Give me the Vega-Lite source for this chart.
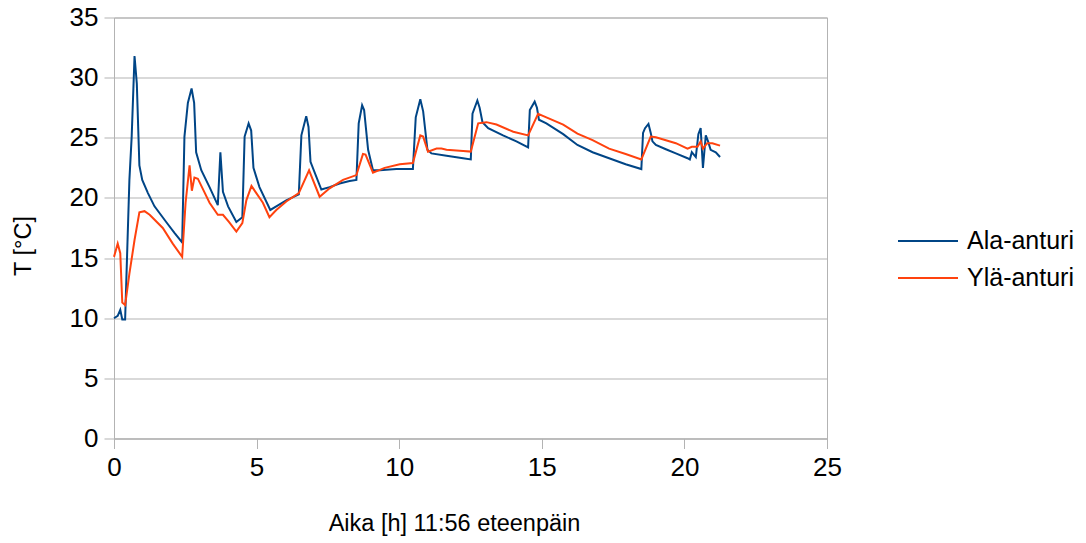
{
  "$schema": "https://vega.github.io/schema/vega-lite/v6.json",
  "autosize": "none",
  "width": 713,
  "height": 421,
  "padding": {"left": 114, "top": 17.5, "right": 259, "bottom": 104.5},
  "background": "white",
  "config": {
    "font": "Liberation Sans",
    "view": {"stroke": "#b3b3b3", "strokeWidth": 1},
    "axis": {
      "domainColor": "#b3b3b3",
      "tickColor": "#b3b3b3",
      "gridColor": "#b3b3b3",
      "labelColor": "#000000",
      "titleColor": "#000000",
      "labelFont": "Liberation Sans",
      "titleFont": "Liberation Sans",
      "titleFontWeight": "normal",
      "labelFontSize": 26,
      "titleFontSize": 23.5,
      "tickSize": 10,
      "labelPadding": 6,
      "labelFlush": false
    },
    "legend": {"labelFont": "Liberation Sans"}
  },
  "data": {"values": [
    {"s":"Ala-anturi","t":0,"T":10.0},{"s":"Ala-anturi","t":0.13,"T":10.2},{"s":"Ala-anturi","t":0.22,"T":10.7},{"s":"Ala-anturi","t":0.29,"T":9.9},{"s":"Ala-anturi","t":0.39,"T":9.9},{"s":"Ala-anturi","t":0.54,"T":21.5},{"s":"Ala-anturi","t":0.62,"T":25.1},{"s":"Ala-anturi","t":0.72,"T":31.8},{"s":"Ala-anturi","t":0.80,"T":29.5},{"s":"Ala-anturi","t":0.89,"T":22.7},{"s":"Ala-anturi","t":0.99,"T":21.5},{"s":"Ala-anturi","t":1.19,"T":20.4},{"s":"Ala-anturi","t":1.42,"T":19.3},{"s":"Ala-anturi","t":1.83,"T":18.0},{"s":"Ala-anturi","t":2.12,"T":17.1},{"s":"Ala-anturi","t":2.39,"T":16.3},{"s":"Ala-anturi","t":2.47,"T":25.1},{"s":"Ala-anturi","t":2.59,"T":27.9},{"s":"Ala-anturi","t":2.72,"T":29.1},{"s":"Ala-anturi","t":2.81,"T":27.9},{"s":"Ala-anturi","t":2.88,"T":23.8},{"s":"Ala-anturi","t":3.06,"T":22.3},{"s":"Ala-anturi","t":3.35,"T":20.9},{"s":"Ala-anturi","t":3.64,"T":19.4},{"s":"Ala-anturi","t":3.73,"T":23.8},{"s":"Ala-anturi","t":3.82,"T":20.5},{"s":"Ala-anturi","t":4.0,"T":19.3},{"s":"Ala-anturi","t":4.29,"T":18.0},{"s":"Ala-anturi","t":4.5,"T":18.4},{"s":"Ala-anturi","t":4.58,"T":25.1},{"s":"Ala-anturi","t":4.72,"T":26.2},{"s":"Ala-anturi","t":4.81,"T":25.6},{"s":"Ala-anturi","t":4.89,"T":22.5},{"s":"Ala-anturi","t":5.1,"T":20.9},{"s":"Ala-anturi","t":5.48,"T":19.0},{"s":"Ala-anturi","t":5.69,"T":19.3},{"s":"Ala-anturi","t":6.04,"T":19.8},{"s":"Ala-anturi","t":6.48,"T":20.3},{"s":"Ala-anturi","t":6.57,"T":25.2},{"s":"Ala-anturi","t":6.74,"T":26.8},{"s":"Ala-anturi","t":6.82,"T":25.9},{"s":"Ala-anturi","t":6.89,"T":23.0},{"s":"Ala-anturi","t":7.27,"T":20.7},{"s":"Ala-anturi","t":7.56,"T":20.9},{"s":"Ala-anturi","t":7.91,"T":21.2},{"s":"Ala-anturi","t":8.26,"T":21.4},{"s":"Ala-anturi","t":8.5,"T":21.5},{"s":"Ala-anturi","t":8.58,"T":26.2},{"s":"Ala-anturi","t":8.70,"T":27.7},{"s":"Ala-anturi","t":8.77,"T":27.3},{"s":"Ala-anturi","t":8.91,"T":24.0},{"s":"Ala-anturi","t":9.08,"T":22.3},{"s":"Ala-anturi","t":9.32,"T":22.3},{"s":"Ala-anturi","t":9.9,"T":22.4},{"s":"Ala-anturi","t":10.48,"T":22.4},{"s":"Ala-anturi","t":10.58,"T":26.7},{"s":"Ala-anturi","t":10.74,"T":28.2},{"s":"Ala-anturi","t":10.84,"T":27.2},{"s":"Ala-anturi","t":10.99,"T":24.0},{"s":"Ala-anturi","t":11.13,"T":23.7},{"s":"Ala-anturi","t":11.66,"T":23.5},{"s":"Ala-anturi","t":12.24,"T":23.3},{"s":"Ala-anturi","t":12.51,"T":23.2},{"s":"Ala-anturi","t":12.57,"T":27.0},{"s":"Ala-anturi","t":12.74,"T":28.1},{"s":"Ala-anturi","t":12.82,"T":27.5},{"s":"Ala-anturi","t":12.92,"T":26.3},{"s":"Ala-anturi","t":13.12,"T":25.8},{"s":"Ala-anturi","t":13.64,"T":25.2},{"s":"Ala-anturi","t":14.11,"T":24.7},{"s":"Ala-anturi","t":14.52,"T":24.2},{"s":"Ala-anturi","t":14.58,"T":27.3},{"s":"Ala-anturi","t":14.75,"T":28.0},{"s":"Ala-anturi","t":14.83,"T":27.5},{"s":"Ala-anturi","t":14.9,"T":26.5},{"s":"Ala-anturi","t":15.16,"T":26.2},{"s":"Ala-anturi","t":15.75,"T":25.3},{"s":"Ala-anturi","t":16.25,"T":24.4},{"s":"Ala-anturi","t":16.78,"T":23.8},{"s":"Ala-anturi","t":17.36,"T":23.3},{"s":"Ala-anturi","t":17.94,"T":22.8},{"s":"Ala-anturi","t":18.49,"T":22.4},{"s":"Ala-anturi","t":18.55,"T":25.4},{"s":"Ala-anturi","t":18.62,"T":25.8},{"s":"Ala-anturi","t":18.74,"T":26.15},{"s":"Ala-anturi","t":18.82,"T":25.4},{"s":"Ala-anturi","t":18.88,"T":24.7},{"s":"Ala-anturi","t":19.0,"T":24.4},{"s":"Ala-anturi","t":19.35,"T":24.05},{"s":"Ala-anturi","t":19.7,"T":23.7},{"s":"Ala-anturi","t":20.11,"T":23.3},{"s":"Ala-anturi","t":20.19,"T":23.2},{"s":"Ala-anturi","t":20.26,"T":23.8},{"s":"Ala-anturi","t":20.4,"T":23.4},{"s":"Ala-anturi","t":20.49,"T":25.3},{"s":"Ala-anturi","t":20.57,"T":25.8},{"s":"Ala-anturi","t":20.65,"T":22.5},{"s":"Ala-anturi","t":20.75,"T":25.2},{"s":"Ala-anturi","t":20.83,"T":24.7},{"s":"Ala-anturi","t":20.92,"T":24.0},{"s":"Ala-anturi","t":21.1,"T":23.8},{"s":"Ala-anturi","t":21.25,"T":23.4},
    {"s":"Ylä-anturi","t":0,"T":15.1},{"s":"Ylä-anturi","t":0.13,"T":16.2},{"s":"Ylä-anturi","t":0.22,"T":15.4},{"s":"Ylä-anturi","t":0.29,"T":11.3},{"s":"Ylä-anturi","t":0.39,"T":11.1},{"s":"Ylä-anturi","t":0.54,"T":13.7},{"s":"Ylä-anturi","t":0.72,"T":16.5},{"s":"Ylä-anturi","t":0.89,"T":18.8},{"s":"Ylä-anturi","t":1.07,"T":18.9},{"s":"Ylä-anturi","t":1.25,"T":18.6},{"s":"Ylä-anturi","t":1.71,"T":17.5},{"s":"Ylä-anturi","t":2.06,"T":16.2},{"s":"Ylä-anturi","t":2.39,"T":15.1},{"s":"Ylä-anturi","t":2.51,"T":19.6},{"s":"Ylä-anturi","t":2.65,"T":22.7},{"s":"Ylä-anturi","t":2.73,"T":20.6},{"s":"Ylä-anturi","t":2.82,"T":21.7},{"s":"Ylä-anturi","t":2.94,"T":21.6},{"s":"Ylä-anturi","t":3.35,"T":19.6},{"s":"Ylä-anturi","t":3.64,"T":18.6},{"s":"Ylä-anturi","t":3.82,"T":18.6},{"s":"Ylä-anturi","t":4.03,"T":18.0},{"s":"Ylä-anturi","t":4.29,"T":17.2},{"s":"Ylä-anturi","t":4.5,"T":17.9},{"s":"Ylä-anturi","t":4.64,"T":19.8},{"s":"Ylä-anturi","t":4.82,"T":21.0},{"s":"Ylä-anturi","t":4.99,"T":20.4},{"s":"Ylä-anturi","t":5.22,"T":19.6},{"s":"Ylä-anturi","t":5.45,"T":18.4},{"s":"Ylä-anturi","t":5.69,"T":19.0},{"s":"Ylä-anturi","t":6.04,"T":19.7},{"s":"Ylä-anturi","t":6.48,"T":20.4},{"s":"Ylä-anturi","t":6.84,"T":22.3},{"s":"Ylä-anturi","t":7.21,"T":20.1},{"s":"Ylä-anturi","t":7.56,"T":20.8},{"s":"Ylä-anturi","t":8.03,"T":21.5},{"s":"Ylä-anturi","t":8.5,"T":21.9},{"s":"Ylä-anturi","t":8.73,"T":23.65},{"s":"Ylä-anturi","t":8.82,"T":23.6},{"s":"Ylä-anturi","t":9.08,"T":22.1},{"s":"Ylä-anturi","t":9.49,"T":22.5},{"s":"Ylä-anturi","t":10.02,"T":22.8},{"s":"Ylä-anturi","t":10.48,"T":22.9},{"s":"Ylä-anturi","t":10.74,"T":25.2},{"s":"Ylä-anturi","t":10.84,"T":25.1},{"s":"Ylä-anturi","t":11.01,"T":23.85},{"s":"Ylä-anturi","t":11.31,"T":24.1},{"s":"Ylä-anturi","t":11.48,"T":24.1},{"s":"Ylä-anturi","t":11.66,"T":24.0},{"s":"Ylä-anturi","t":12.24,"T":23.9},{"s":"Ylä-anturi","t":12.51,"T":23.85},{"s":"Ylä-anturi","t":12.77,"T":26.2},{"s":"Ylä-anturi","t":13.06,"T":26.3},{"s":"Ylä-anturi","t":13.41,"T":26.1},{"s":"Ylä-anturi","t":14.0,"T":25.5},{"s":"Ylä-anturi","t":14.52,"T":25.2},{"s":"Ylä-anturi","t":14.87,"T":27.0},{"s":"Ylä-anturi","t":15.16,"T":26.7},{"s":"Ylä-anturi","t":15.75,"T":26.1},{"s":"Ylä-anturi","t":16.25,"T":25.35},{"s":"Ylä-anturi","t":16.78,"T":24.8},{"s":"Ylä-anturi","t":17.36,"T":24.1},{"s":"Ylä-anturi","t":17.94,"T":23.65},{"s":"Ylä-anturi","t":18.49,"T":23.2},{"s":"Ylä-anturi","t":18.82,"T":25.1},{"s":"Ylä-anturi","t":19.0,"T":25.05},{"s":"Ylä-anturi","t":19.35,"T":24.8},{"s":"Ylä-anturi","t":19.7,"T":24.55},{"s":"Ylä-anturi","t":20.11,"T":24.1},{"s":"Ylä-anturi","t":20.26,"T":24.25},{"s":"Ylä-anturi","t":20.46,"T":24.25},{"s":"Ylä-anturi","t":20.57,"T":24.7},{"s":"Ylä-anturi","t":20.65,"T":24.1},{"s":"Ylä-anturi","t":20.8,"T":24.55},{"s":"Ylä-anturi","t":20.98,"T":24.55},{"s":"Ylä-anturi","t":21.25,"T":24.35}
  ]},
  "mark": {"type": "line", "strokeWidth": 2, "interpolate": "linear"},
  "encoding": {
    "x": {
      "field": "t", "type": "quantitative",
      "scale": {"domain": [0, 25], "nice": false, "zero": false},
      "axis": {
        "values": [0, 5, 10, 15, 20, 25],
        "grid": false,
        "title": "Aika [h] 11:56 eteenpäin",
        "titleX": 340,
        "titleY": 92,
        "titleBaseline": "alphabetic",
        "titleAnchor": "middle",
        "titleAlign": "center"
      }
    },
    "y": {
      "field": "T", "type": "quantitative",
      "scale": {"domain": [0, 35], "nice": false},
      "axis": {
        "values": [0, 5, 10, 15, 20, 25, 30, 35],
        "grid": true,
        "title": "T [°C]",
        "titleX": -84,
        "titleY": 228,
        "titleAngle": -90,
        "titleBaseline": "alphabetic",
        "titleAlign": "center"
      }
    },
    "color": {
      "field": "s", "type": "nominal",
      "scale": {"domain": ["Ala-anturi", "Ylä-anturi"], "range": ["#004586", "#ff420e"]},
      "legend": {
        "title": null,
        "orient": "none",
        "legendX": 798,
        "legendY": 207.5,
        "symbolType": "M-2,0H2",
        "symbolSize": 900,
        "symbolStrokeWidth": 2,
        "symbolFillColor": "transparent",
        "labelFontSize": 25,
        "labelColor": "#000000",
        "labelOffset": 23,
        "rowPadding": 8,
        "padding": 0
      }
    }
  }
}
